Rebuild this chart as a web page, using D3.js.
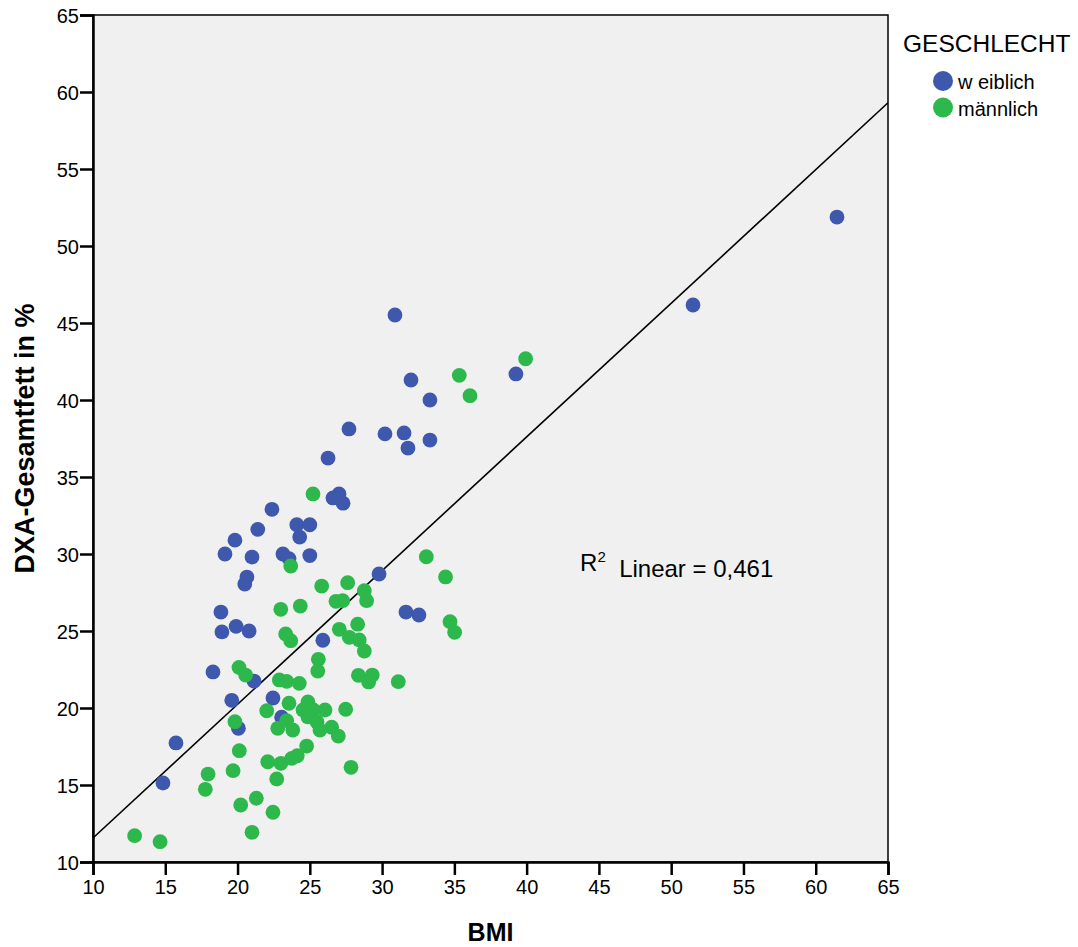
<!DOCTYPE html>
<html>
<head>
<meta charset="utf-8">
<script src="https://cdn.jsdelivr.net/npm/d3@7/dist/d3.min.js"></script>
<style>
  html, body { margin: 0; padding: 0; background: #ffffff; }
  svg { display: block; font-family: "Liberation Sans", Arial, sans-serif; }
</style>
</head>
<body>
<svg id="chart" width="1078" height="947"></svg>
<script>
// ---- data ----
const xTicks = [10, 15, 20, 25, 30, 35, 40, 45, 50, 55, 60, 65];
const yTicks = [10, 15, 20, 25, 30, 35, 40, 45, 50, 55, 60, 65];
const groupNames = ["w eiblich", "männlich"];
const legendTitle = "GESCHLECHT";

const weiblichBMI = [61.47, 51.51, 30.89, 39.26, 32.0, 33.31, 27.71, 30.2, 31.52, 31.79, 33.31, 26.26,
  27.02, 26.6, 27.3, 22.38, 21.4, 24.1, 25.0, 24.3, 19.82, 19.13, 21.0, 23.14, 23.56, 25.0,
  20.65, 20.5, 29.79, 18.85, 31.65, 32.55, 18.92, 19.9, 20.8, 25.9, 18.3, 21.14, 19.6, 22.45,
  23.05, 20.06, 15.74, 14.84];
const weiblichFat = [51.88, 46.17, 45.52, 41.69, 41.3, 40.0, 38.12, 37.8, 37.86, 36.88, 37.4, 36.23,
  33.9, 33.64, 33.3, 32.9, 31.6, 31.9, 31.9, 31.1, 30.9, 30.0, 29.8, 30.0, 29.7, 29.9,
  28.5, 28.05, 28.7, 26.23, 26.23, 26.04, 24.94, 25.3, 25.0, 24.4, 22.34, 21.75, 20.5, 20.65,
  19.4, 18.68, 17.73, 15.13];

const maennlichBMI = [39.93, 35.34, 36.08, 25.22, 33.06, 23.68, 25.82, 27.62, 34.39, 28.77, 28.93,
  26.81, 27.27, 22.99, 24.34, 34.7, 35.02, 28.31, 27.04, 27.73, 28.42, 28.77, 23.33, 23.68,
  25.59, 25.55, 28.36, 29.32, 29.07, 31.12, 22.89, 23.4, 24.27, 20.1, 20.56, 23.56, 22.02,
  27.48, 23.4, 22.78, 23.82, 26.51, 26.97, 19.82, 20.12, 24.78, 22.09, 23.0, 23.75, 24.13,
  22.71, 17.96, 19.69, 27.85, 17.77, 21.3, 20.22, 22.45, 21.0, 12.88, 14.64,
  24.87, 24.53, 25.24, 26.05, 24.87, 25.5, 25.7];
const maennlichFat = [42.68, 41.6, 40.28, 33.9, 29.82, 29.22, 27.92, 28.14, 28.51, 27.62, 26.97,
  26.93, 26.97, 26.41, 26.62, 25.6, 24.91, 25.44, 25.11, 24.59, 24.42, 23.70, 24.81, 24.37,
  23.16, 22.40, 22.12, 22.14, 21.69, 21.71, 21.82, 21.73, 21.6, 22.63, 22.14, 20.31, 19.82,
  19.92, 19.18, 18.68, 18.57, 18.75, 18.18, 19.11, 17.23, 17.53, 16.51, 16.41, 16.73, 16.9,
  15.39, 15.71, 15.93, 16.15, 14.72, 14.14, 13.7, 13.23, 11.93, 11.71, 11.32,
  20.39, 19.87, 19.87, 19.87, 19.42, 19.09, 18.57];

// fitted line (total sample)
const fitIntercept = 2.88;
const fitSlope = 0.868;
const r2Text = "0,461";

// ---- layout ----
const colors = ["#3d58ad", "#2db84c"];
const margin = { left: 93, top: 15 };
const iw = 888 - margin.left, ih = 862 - margin.top;

const svg = d3.select("#chart");
const g = svg.append("g").attr("transform", `translate(${margin.left},${margin.top})`);

const x = d3.scaleLinear().domain([10, 65]).range([0, iw]);
const y = d3.scaleLinear().domain([10, 65]).range([ih, 0]);

g.append("rect").attr("x", 0).attr("y", 0).attr("width", iw).attr("height", ih)
  .attr("fill", "#f0f0f0").attr("stroke", "#000").attr("stroke-width", 1.5);

svg.append("defs").append("clipPath").attr("id", "clip")
  .append("rect").attr("width", iw).attr("height", ih);

// fit line
const plot = g.append("g").attr("clip-path", "url(#clip)");
plot.append("line")
  .attr("x1", x(10)).attr("y1", y(fitIntercept + fitSlope * 10))
  .attr("x2", x(65)).attr("y2", y(fitIntercept + fitSlope * 65))
  .attr("stroke", "#000").attr("stroke-width", 1.6);

// points
const groups = [
  d3.zip(weiblichBMI, weiblichFat),
  d3.zip(maennlichBMI, maennlichFat)
];
groups.forEach((pts, i) => {
  plot.append("g").selectAll("circle").data(pts).join("circle")
    .attr("cx", d => x(d[0])).attr("cy", d => y(d[1]))
    .attr("r", 7.4).attr("fill", colors[i]);
});

// axes
const xAxis = g.append("g").attr("transform", `translate(0,${ih})`)
  .call(d3.axisBottom(x).tickValues(xTicks).tickSize(13).tickPadding(5).tickFormat(d3.format("d")));
const yAxis = g.append("g")
  .call(d3.axisLeft(y).tickValues(yTicks).tickSize(13).tickPadding(1).tickFormat(d3.format("d")));
[xAxis, yAxis].forEach(a => {
  a.select(".domain").attr("stroke", "#000").attr("stroke-width", 2.5);
  a.selectAll(".tick line").attr("stroke", "#000").attr("stroke-width", 2.5);
  a.selectAll(".tick text").attr("fill", "#000").style("font-size", "20px")
    .style("font-family", "'Liberation Sans', Arial, sans-serif");
});
yAxis.selectAll(".tick text").attr("dy", "0.36em");

// axis titles
svg.append("text").attr("x", margin.left + iw / 2).attr("y", 941)
  .attr("text-anchor", "middle").style("font-size", "25px").style("font-weight", "bold")
  .text("BMI");
svg.append("text")
  .attr("transform", `translate(34,${margin.top + ih / 2}) rotate(-90)`)
  .attr("text-anchor", "middle").style("font-size", "27px").style("font-weight", "bold")
  .text("DXA-Gesamtfett in %");

// R² annotation
const r2 = g.append("text").attr("x", x(43.7)).attr("y", y(29.4) + 8)
  .style("font-size", "24px").attr("fill", "#000");
r2.append("tspan").text("R");
r2.append("tspan").attr("dy", "-0.6em").style("font-size", "15px").text("2");
r2.append("tspan").attr("dy", "0.6em").text("\u00a0 Linear = " + r2Text);

// legend
const leg = svg.append("g");
leg.append("text").attr("x", 903).attr("y", 52).style("font-size", "24.5px").text(legendTitle);
groupNames.forEach((name, i) => {
  const cy = 81 + i * 26.5;
  leg.append("circle").attr("cx", 943).attr("cy", cy).attr("r", 10).attr("fill", colors[i]);
  leg.append("text").attr("x", 958).attr("y", cy + 8).style("font-size", "20px").text(name);
});
</script>
</body>
</html>
